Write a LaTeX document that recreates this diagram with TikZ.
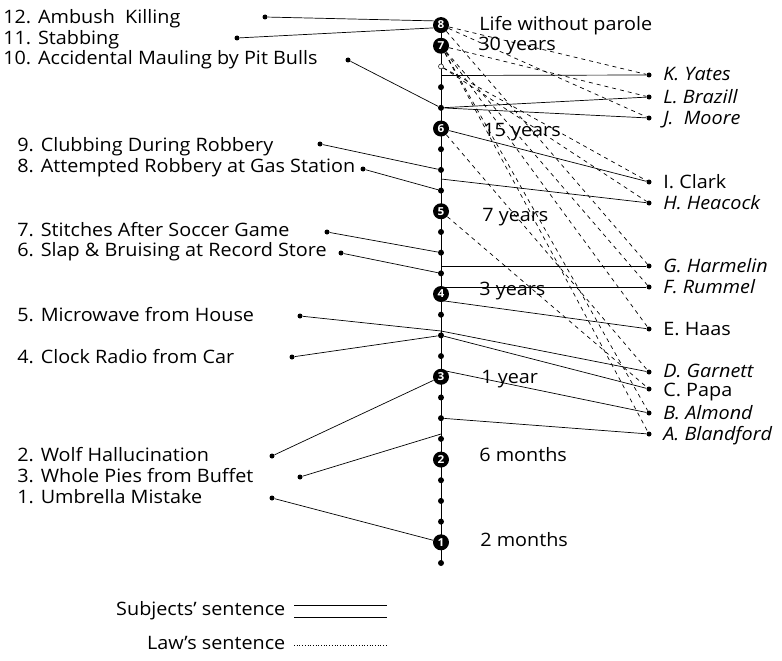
\documentclass[tikz,border=0pt]{standalone}
\usepackage{fontspec}
\setmainfont{Open Sans}[FakeStretch=1.07]
\begin{document}
\begin{tikzpicture}[x=1pt,y=-1pt,line width=0.7pt,
	font=\fontsize{18.5}{20}\selectfont,
	axis dot/.style={circle,fill,inner sep=0pt,minimum size=6pt},
	scale node/.style={circle,fill,inner sep=0pt,minimum size=16pt,text=white,font=\bfseries\fontsize{11}{11}\selectfont},
	end dot/.style={circle,fill,inner sep=0pt,minimum size=5pt},
	crime/.style={anchor=west,inner sep=0pt,text height=13pt,text depth=0pt},
	case/.style={anchor=west,inner sep=0pt,text height=12pt,text depth=0pt},
	law/.style={dash pattern=on 4pt off 4pt}]

	\useasboundingbox (0,0) rectangle (782,661);

	% sentence scale
	\foreach \k in {0,...,26}
		\coordinate (p\k) at (441,{563-20.69*\k});
	\draw (p0) -- (p26);
	\foreach \k in {0,2,3,4,6,7,8,10,11,12,14,15,16,18,19,20,22,23}
		\node[axis dot] (a\k) at (p\k) {};
	\node[circle,draw,fill=white,inner sep=0pt,minimum size=5pt,line width=0.5pt] (a24) at (p24) {};
	\node[scale node] (s1) at (p1) {1};
	\node[scale node] (s2) at (p5) {2};
	\node[scale node] (s3) at (p9) {3};
	\node[scale node] (s4) at (p13) {4};
	\node[scale node] (s5) at (p17) {5};
	\node[scale node] (s6) at (p21) {6};
	\node[scale node] (s7) at (p25) {7};
	\node[scale node] (s8) at (p26) {8};

	\node[case] (l8) at (479,25) {Life without parole};
	\node[case] (l7) at (478,45) {30 years};
	\node[case] (l6) at (483,130) {15 years};
	\node[case] (l5) at (482,215) {7 years};
	\node[case] (l4) at (479,289) {3 years};
	\node[case] (l3) at (481,377) {1 year};
	\node[case] (l2) at (479,455) {6 months};
	\node[case] (l1) at (480,540) {2 months};

	% crimes
	\node[crime] (t12) at (3,17) {12. Ambush\ \ Killing};
	\node[crime] (t11) at (3,38) {11. Stabbing};
	\node[crime] (t10) at (3,58) {10. Accidental Mauling by Pit Bulls};
	\node[crime] (t9) at (17,145) {9. Clubbing During Robbery};
	\node[crime] (t8) at (17,166) {8. Attempted Robbery at Gas Station};
	\node[crime] (t7) at (17,230) {7. Stitches After Soccer Game};
	\node[crime] (t6) at (17,250) {6. Slap \& Bruising at Record Store};
	\node[crime] (t5) at (17,315) {5. Microwave from House};
	\node[crime] (t4) at (17,357) {4. Clock Radio from Car};
	\node[crime] (t2) at (17,455) {2. Wolf Hallucination};
	\node[crime] (t3) at (17,476) {3. Whole Pies from Buffet};
	\node[crime] (t1) at (17,497) {1. Umbrella Mistake};

	\node[end dot] (d12) at (265,17) {};
	\node[end dot] (d11) at (237,38) {};
	\node[end dot] (d10) at (348,60) {};
	\node[end dot] (d9) at (320,144) {};
	\node[end dot] (d8) at (363,169) {};
	\node[end dot] (d7) at (327,232) {};
	\node[end dot] (d6) at (341,253) {};
	\node[end dot] (d5) at (300,316) {};
	\node[end dot] (d4) at (292,357) {};
	\node[end dot] (d2) at (272,456) {};
	\node[end dot] (d3) at (300,477) {};
	\node[end dot] (d1) at (272,498) {};

	% cases
	\node[end dot] (nK) at (649,75) {};
	\node[end dot] (nL) at (649,97) {};
	\node[end dot] (nJ) at (649,118) {};
	\node[end dot] (nI) at (649,182) {};
	\node[end dot] (nH) at (649,203) {};
	\node[end dot] (nG) at (649,266) {};
	\node[end dot] (nF) at (649,287) {};
	\node[end dot] (nE) at (649,329) {};
	\node[end dot] (nD) at (649,372) {};
	\node[end dot] (nC) at (649,389) {};
	\node[end dot] (nB) at (649,413) {};
	\node[end dot] (nA) at (649,434) {};

	\node[case] (cK) at (663,75) {\itshape K. Yates};
	\node[case] (cL) at (663,97) {\itshape L. Brazill};
	\node[case] (cJ) at (663,118) {\itshape J.\ \ Moore};
	\node[case] (cI) at (663,182) {I. Clark};
	\node[case] (cH) at (663,203) {\itshape H. Heacock};
	\node[case] (cG) at (663,266) {\itshape G. Harmelin};
	\node[case] (cF) at (663,287) {\itshape F. Rummel};
	\node[case] (cE) at (663,329) {E. Haas};
	\node[case] (cD) at (663,371) {\itshape D. Garnett};
	\node[case] (cC) at (663,390) {C. Papa};
	\node[case] (cB) at (663,413) {\itshape B. Almond};
	\node[case] (cA) at (663,434) {\itshape A. Blandford};

	% points on the scale between dots
	\coordinate (mK) at (441,75.5);
	\coordinate (mH) at (441,179);
	\coordinate (mG) at (441,266);
	\coordinate (mF) at (441,287);
	\coordinate (mE) at (441,300.5);
	\coordinate (m5) at (441,331);
	\coordinate (mB) at (441,370);
	\coordinate (m3) at (441,434);

	% subjects' sentence
	\path[draw]
	(d12) edge (s8.150)
	(d11) edge (s8.200)
	(d10) edge (a22)
	(d9) edge (a19)
	(d8) edge (a18)
	(d7) edge (a15)
	(d6) edge (a14)
	(d5) edge (m5)
	(d4) edge (a11)
	(d2) edge (s3)
	(d3) edge (m3)
	(d1) edge (s1)
	(mK) edge (nK)
	(a22) edge (nL)
	edge (nJ)
	(s6) edge (nI)
	(mH) edge (nH)
	(mG) edge (nG)
	(mF) edge (nF)
	(mE) edge (nE)
	(m5) edge (nD)
	(a11) edge (nC)
	(mB) edge (nB)
	(a7) edge (nA);

	% law's sentence
	\path[draw,law]
	(s8) edge (nK)
	edge (nJ)
	edge (nG)
	(s7) edge (nL)
	edge (nF)
	edge (nE)
	edge (nB)
	edge (nA)
	(a24) edge (nI)
	edge (nH)
	(s6) edge (nD)
	(s5) edge (nC);

	% legend
	\node[anchor=east] (k1) at (289,611) {Subjects' sentence};
	\node[anchor=east] (k2) at (289,643) {Law's sentence};
	\coordinate (k1a) at (294,605);
	\coordinate (k1b) at (387,605);
	\coordinate (k1c) at (294,617);
	\coordinate (k1d) at (387,617);
	\coordinate (k2a) at (294,645);
	\coordinate (k2b) at (387,645);
	\draw (k1a) -- (k1b) (k1c) -- (k1d);
	\draw[dotted] (k2a) -- (k2b);
\end{tikzpicture}
\end{document}
